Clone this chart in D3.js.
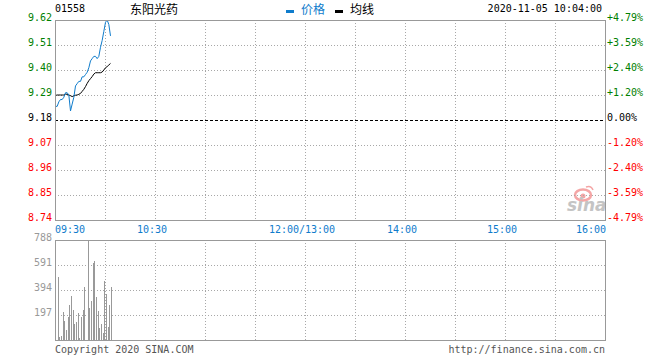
<!DOCTYPE html>
<html><head><meta charset="utf-8">
<script src="https://cdn.jsdelivr.net/npm/d3@7"></script>
<style>
html,body{margin:0;padding:0;background:#fff;}
svg{display:block;}
text{font-family:"DejaVu Sans Mono","Liberation Mono",monospace;font-size:10px;}
.cjk{font-family:"Noto Sans CJK SC","Noto Sans",sans-serif;font-size:12px;}
</style></head>
<body>
<svg id="c" width="660" height="360"></svg>
<script>
// ---- data ----
const stockCode = "01558";
const stockName = "东阳光药";
const timestamp = "2020-11-05 10:04:00";
const preClose = 9.18;
const priceTicks = [9.62, 9.51, 9.40, 9.29, 9.18, 9.07, 8.96, 8.85, 8.74];
const pctTicks = ["+4.79%", "+3.59%", "+2.40%", "+1.20%", "0.00%", "-1.20%", "-2.40%", "-3.59%", "-4.79%"];
const timeLabels = ["09:30", "10:30", "12:00/13:00", "14:00", "15:00", "16:00"];
const timeLabelMinutes = [0, 60, 150, 210, 270, 330];
const volTicks = [788, 591, 394, 197];
// minute index from 09:30 (0..33)
const price = [9.24, 9.24, 9.26, 9.27, 9.27, 9.28, 9.30, 9.30, 9.29, 9.22, 9.25, 9.28,
  9.33, 9.34, 9.35, 9.35, 9.37, 9.37, 9.38, 9.39, 9.41, 9.44, 9.45, 9.46, 9.46, 9.45,
  9.46, 9.50, 9.53, 9.57, 9.61, 9.62, 9.60, 9.55];
const avgPrice = [9.288, 9.29, 9.29, 9.29, 9.29, 9.29, 9.294, 9.293, 9.29, 9.287, 9.283, 9.286,
  9.289, 9.29, 9.293, 9.297, 9.306, 9.315, 9.327, 9.341, 9.353, 9.362, 9.371, 9.382, 9.388,
  9.388, 9.388, 9.388, 9.391, 9.40, 9.41, 9.415, 9.422, 9.429];
// volume for minutes 1..33
const volume = [500, 26, 34, 222, 153, 79, 182, 278, 349, 238, 127, 143, 214, 19, 182, 238,
  420, 0, 850, 256, 309, 603, 619, 341, 230, 95, 127, 56, 468, 365, 103, 278, 420];

// ---- layout ----
const L = 55, R = 605, PT = 20, PB = 220, VT = 240, VB = 340;
const svg = d3.select("#c");
const x = d3.scaleLinear().domain([0, 330]).range([L, R]);
const y = d3.scaleLinear().domain([8.74, 9.62]).range([PB, PT]);
const yv = d3.scaleLinear().domain([0, 788]).range([VB, VT]).clamp(true);

const green = "#008000", red = "#ff0000", blue = "#0f7ccc", grid = "#a8a8a8", frame = "#999";

// watermark
const wm = svg.append("g");
wm.append("ellipse").attr("cx", 583).attr("cy", 195).attr("rx", 8).attr("ry", 5.5)
  .attr("fill", "none").attr("stroke", "#f4a6a6").attr("stroke-width", 2.5);
wm.append("circle").attr("cx", 583).attr("cy", 196).attr("r", 2.5).attr("fill", "#f4a6a6");
wm.append("path").attr("d", "M586,187 q5,-2 7,3").attr("fill", "none").attr("stroke", "#f4a6a6").attr("stroke-width", 1.5);
wm.append("text").attr("x", 567).attr("y", 211).text("sina")
  .style("font-family", "DejaVu Sans, sans-serif").style("font-size", "17px")
  .style("font-style", "italic").style("font-weight", "bold").attr("fill", "#c4c4c4");

// grids price panel
const gp = svg.append("g").attr("shape-rendering", "crispEdges");
priceTicks.forEach(p => {
  if (p === 9.62 || p === 8.74) return;
  gp.append("line").attr("x1", L).attr("x2", R).attr("y1", Math.round(y(p)) + 0.5).attr("y2", Math.round(y(p)) + 0.5)
    .attr("stroke", p === preClose ? "#000" : grid)
    .attr("stroke-dasharray", p === preClose ? "3,2" : "1,2");
});
const vlines = d3.range(30, 330, 30);
vlines.forEach(m => {
  gp.append("line").attr("x1", Math.round(x(m)) + 0.5).attr("x2", Math.round(x(m)) + 0.5)
    .attr("y1", PT).attr("y2", PB).attr("stroke", grid).attr("stroke-dasharray", "1,2");
  gp.append("line").attr("x1", Math.round(x(m)) + 0.5).attr("x2", Math.round(x(m)) + 0.5)
    .attr("y1", VT).attr("y2", VB).attr("stroke", grid).attr("stroke-dasharray", "1,2");
});
volTicks.slice(1).forEach(v => {
  gp.append("line").attr("x1", L).attr("x2", R).attr("y1", Math.round(yv(v)) + 0.5).attr("y2", Math.round(yv(v)) + 0.5)
    .attr("stroke", grid).attr("stroke-dasharray", "1,2");
});

// volume bars
svg.append("g").attr("shape-rendering", "crispEdges").selectAll("rect").data(volume).join("rect")
  .attr("x", (d, i) => Math.round(x(i + 1)) + 1)
  .attr("width", 1)
  .attr("y", d => Math.round(yv(d)))
  .attr("height", d => VB - Math.round(yv(d)))
  .attr("fill", "#999");

// lines
const line = d3.line().x((d, i) => x(i) + 0.5).y(d => y(d));
svg.append("path").datum(avgPrice).attr("d", line).attr("fill", "none").attr("stroke", "#000").attr("stroke-width", 1);
svg.append("path").datum(price).attr("d", line).attr("fill", "none").attr("stroke", blue).attr("stroke-width", 1);

// frames
const fr = svg.append("g").attr("shape-rendering", "crispEdges").attr("fill", "none").attr("stroke", frame);
fr.append("rect").attr("x", L + 0.5).attr("y", PT + 0.5).attr("width", R - L).attr("height", PB - PT);
fr.append("rect").attr("x", L + 0.5).attr("y", VT + 0.5).attr("width", R - L).attr("height", VB - VT);

// left price labels & right pct labels
priceTicks.forEach((p, i) => {
  const c = p > preClose ? green : (p < preClose ? red : "#000");
  svg.append("text").attr("x", 52).attr("y", Math.round(y(p)) + 1).attr("text-anchor", "end").attr("fill", c).text(p.toFixed(2));
  svg.append("text").attr("x", 607).attr("y", Math.round(y(p)) + 1).attr("fill", c).text(pctTicks[i]);
});
// volume labels
volTicks.forEach(v => {
  svg.append("text").attr("x", 52).attr("y", Math.round(yv(v)) + 1).attr("text-anchor", "end").attr("fill", "#999").text(v);
});
// time labels
timeLabels.forEach((t, i) => {
  const m = timeLabelMinutes[i];
  let anchor = "middle", xx = x(m) - 3;
  if (i === 0) { anchor = "start"; xx = L; }
  if (i === timeLabels.length - 1) { anchor = "end"; xx = R + 1; }
  svg.append("text").attr("x", xx).attr("y", 233).attr("text-anchor", anchor).attr("fill", blue).text(t);
});

// header
svg.append("text").attr("x", 55).attr("y", 12).attr("fill", "#000").text(stockCode);
svg.append("text").attr("class", "cjk").attr("x", 130).attr("y", 14).attr("fill", "#000").text(stockName);
svg.append("rect").attr("x", 286).attr("y", 10).attr("width", 8).attr("height", 3).attr("fill", blue);
svg.append("text").attr("class", "cjk").attr("x", 301).attr("y", 14).attr("fill", blue).text("价格");
svg.append("rect").attr("x", 335).attr("y", 10).attr("width", 8).attr("height", 3).attr("fill", "#000");
svg.append("text").attr("class", "cjk").attr("x", 350).attr("y", 14).attr("fill", "#000").text("均线");
svg.append("text").attr("x", 602).attr("y", 12).attr("text-anchor", "end").attr("fill", "#000").text(timestamp);

// footer
svg.append("text").attr("x", 55).attr("y", 353).attr("fill", "#555").text("Copyright 2020 SINA.COM");
svg.append("text").attr("x", 605).attr("y", 353).attr("text-anchor", "end").attr("fill", "#555").text("http://finance.sina.com.cn");
</script>
</body></html>
